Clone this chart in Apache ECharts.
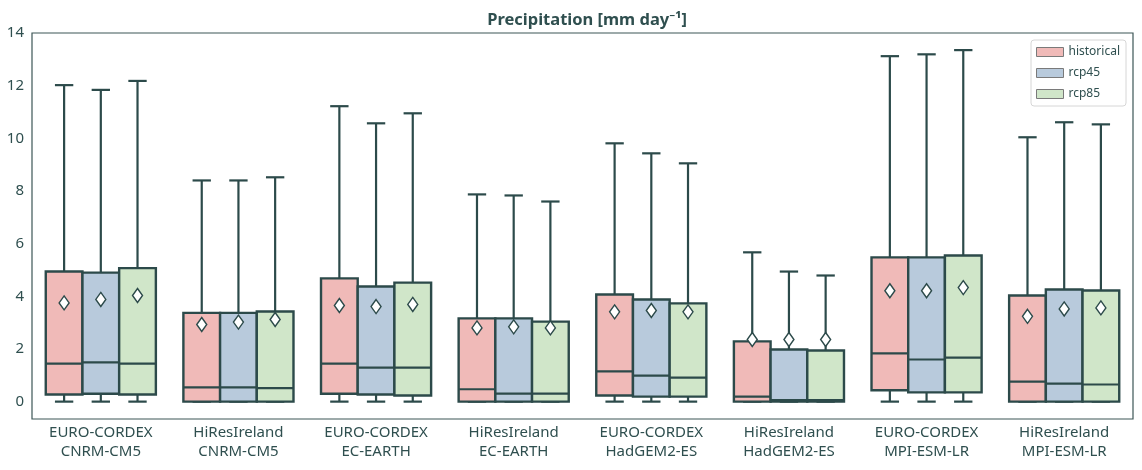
<!DOCTYPE html>
<html>
<head>
<meta charset="utf-8">
<script src="https://cdn.jsdelivr.net/npm/echarts@6/dist/echarts.min.js"></script>
<style>
  html, body { margin: 0; padding: 0; background: #fff; }
  #chart { width: 1142px; height: 470px; }
</style>
</head>
<body>
<div id="chart"></div>
<script>
// categories (two-line labels)
var categories = [
  "EURO-CORDEX\nCNRM-CM5", "HiResIreland\nCNRM-CM5",
  "EURO-CORDEX\nEC-EARTH", "HiResIreland\nEC-EARTH",
  "EURO-CORDEX\nHadGEM2-ES", "HiResIreland\nHadGEM2-ES",
  "EURO-CORDEX\nMPI-ESM-LR", "HiResIreland\nMPI-ESM-LR"
];

// [low whisker, q1, median, q3, high whisker]
var histBox = [
  [0, 0.27, 1.44, 4.94, 12.02],
  [0, 0, 0.54, 3.37, 8.40],
  [0, 0.30, 1.44, 4.68, 11.22],
  [0, 0, 0.47, 3.16, 7.87],
  [0, 0.23, 1.15, 4.07, 9.81],
  [0, 0, 0.19, 2.29, 5.67],
  [0, 0.43, 1.83, 5.48, 13.12],
  [0, 0, 0.76, 4.03, 10.04]
];
var rcp45Box = [
  [0, 0.30, 1.49, 4.90, 11.84],
  [0, 0, 0.54, 3.37, 8.40],
  [0, 0.27, 1.29, 4.37, 10.57],
  [0, 0, 0.30, 3.16, 7.83],
  [0, 0.19, 0.99, 3.88, 9.43],
  [0, 0, 0.06, 1.98, 4.94],
  [0, 0.35, 1.60, 5.48, 13.19],
  [0, 0, 0.68, 4.26, 10.61]
];
var rcp85Box = [
  [0, 0.27, 1.44, 5.07, 12.18],
  [0, 0, 0.51, 3.42, 8.52],
  [0, 0.23, 1.29, 4.52, 10.95],
  [0, 0, 0.30, 3.04, 7.60],
  [0, 0.19, 0.91, 3.73, 9.05],
  [0, 0, 0.06, 1.94, 4.79],
  [0, 0.35, 1.67, 5.55, 13.35],
  [0, 0, 0.65, 4.22, 10.53]
];

// means (diamonds)
var histMean = [3.75, 2.93, 3.65, 2.80, 3.41, 2.36, 4.21, 3.24];
var rcp45Mean = [3.88, 3.02, 3.61, 2.84, 3.46, 2.36, 4.21, 3.52];
var rcp85Mean = [4.03, 3.12, 3.69, 2.80, 3.41, 2.36, 4.33, 3.56];

var seriesNames = ["historical", "rcp45", "rcp85"];
var fills = ["#f0bab8", "#b8cadc", "#d0e6c9"];
var lineColor = "#2c4a4a";
var textColor = "#2f4f4f";
var font = "Noto Sans";

function buildData(box, mean) {
  return box.map(function (b, i) {
    return [i, b[0], b[1], b[2], b[3], b[4], mean[i]];
  });
}

function renderBox(s) {
  return function (params, api) {
    var cat = api.value(0);
    var band = api.size([1, 0])[0];
    var w = band * 0.8 / 3;
    var cx = api.coord([cat, 0])[0] + (s - 1) * w;
    var y = function (i) { return api.coord([cat, api.value(i)])[1]; };
    var yLo = y(1), yQ1 = y(2), yMed = y(3), yQ3 = y(4), yHi = y(5), yMean = y(6);
    var lw = 2.2;
    var ls = { stroke: lineColor, lineWidth: lw };
    var cap = w / 4;
    var dw = 5, dh = 7;
    return {
      type: "group",
      children: [
        { type: "line", shape: { x1: cx, y1: yQ3, x2: cx, y2: yHi }, style: ls },
        { type: "line", shape: { x1: cx - cap, y1: yHi, x2: cx + cap, y2: yHi }, style: ls },
        { type: "line", shape: { x1: cx, y1: yQ1, x2: cx, y2: yLo }, style: ls },
        { type: "line", shape: { x1: cx - cap, y1: yLo, x2: cx + cap, y2: yLo }, style: ls },
        {
          type: "rect",
          shape: { x: cx - w / 2, y: yQ3, width: w, height: yQ1 - yQ3 },
          style: { fill: fills[s], stroke: lineColor, lineWidth: 2.4 }
        },
        { type: "line", shape: { x1: cx - w / 2, y1: yMed, x2: cx + w / 2, y2: yMed }, style: ls },
        {
          type: "polygon",
          shape: { points: [[cx, yMean - dh], [cx + dw, yMean], [cx, yMean + dh], [cx - dw, yMean]] },
          style: { fill: "#fff", stroke: lineColor, lineWidth: 1.4 }
        }
      ]
    };
  };
}

var boxes = [histBox, rcp45Box, rcp85Box];
var means = [histMean, rcp45Mean, rcp85Mean];

var series = seriesNames.map(function (name, s) {
  return {
    name: name,
    type: "custom",
    renderItem: renderBox(s),
    encode: { x: 0, y: [1, 2, 3, 4, 5, 6] },
    itemStyle: { color: fills[s] },
    data: buildData(boxes[s], means[s]),
    silent: true
  };
});

var chart = echarts.init(document.getElementById("chart"));
chart.setOption({
  animation: false,
  title: {
    text: "Precipitation [mm day⁻¹]",
    left: 582,
    textAlign: "center",
    top: 7,
    textStyle: { fontFamily: font, fontSize: 16.5, fontWeight: "bold", color: textColor }
  },
  legend: {
    data: seriesNames,
    orient: "vertical",
    right: 16,
    top: 40,
    icon: "rect",
    itemWidth: 27,
    itemHeight: 9,
    itemGap: 9,
    padding: [6, 6, 6, 5],
    backgroundColor: "#fff",
    borderColor: "#d6d6d6",
    borderWidth: 1,
    borderRadius: 3,
    itemStyle: { borderColor: "#7a7a7a", borderWidth: 1 },
    textStyle: { fontFamily: font, fontSize: 12, color: textColor }
  },
  grid: { left: 32, right: 9, top: 33, bottom: 51, show: true, borderColor: "#3d5656", borderWidth: 1.2 },
  xAxis: {
    type: "category",
    data: categories,
    axisLine: { show: false },
    axisTick: { show: false },
    axisLabel: { fontFamily: font, fontSize: 15, color: textColor, margin: 4, lineHeight: 19 },
    splitLine: { show: false }
  },
  yAxis: {
    type: "value",
    min: -0.66,
    max: 14,
    minInterval: 2,
    maxInterval: 2,
    axisLine: { show: false },
    axisTick: { show: false },
    splitLine: { show: false },
    axisLabel: {
      fontFamily: font, fontSize: 15, color: textColor, margin: 8,
      formatter: function (v) { return Math.abs(v % 2) < 1e-9 ? String(v) : ""; }
    }
  },
  series: series
});
</script>
</body>
</html>
